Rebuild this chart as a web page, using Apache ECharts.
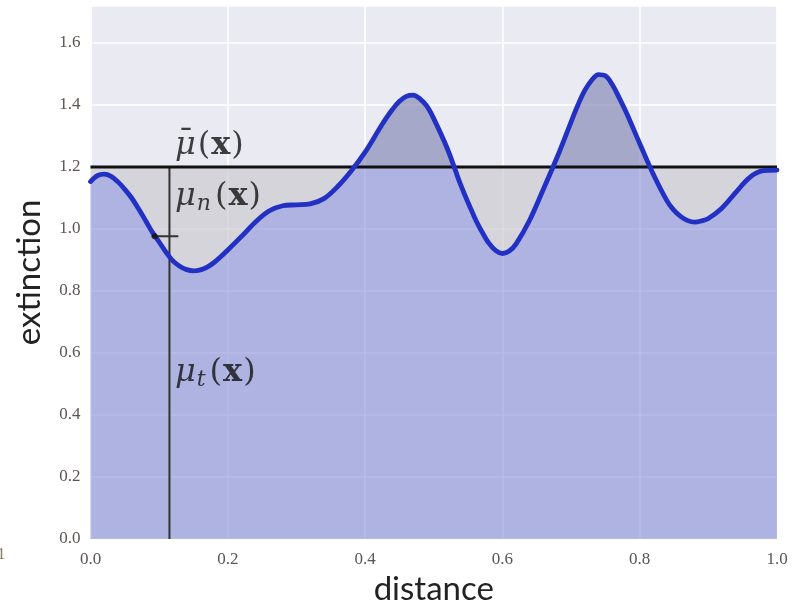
<!DOCTYPE html>
<html><head><meta charset="utf-8">
<script src="https://cdn.jsdelivr.net/npm/echarts@6/dist/echarts.min.js"></script>
<style>html,body{margin:0;padding:0;background:#fff}#c{width:802px;height:601px}</style>
</head><body><div id="c"></div>
<script>
// ---- data ----
const distance = [0.00, 0.01, 0.02, 0.03, 0.04, 0.05, 0.06, 0.07, 0.08, 0.09, 0.10, 0.11, 0.12, 0.13, 0.14, 0.15, 0.16, 0.17, 0.18, 0.19, 0.20, 0.22, 0.24, 0.26, 0.28, 0.30, 0.32, 0.34, 0.36, 0.38, 0.40, 0.42, 0.43, 0.44, 0.45, 0.46, 0.47, 0.48, 0.49, 0.50, 0.52, 0.54, 0.56, 0.57, 0.58, 0.59, 0.60, 0.61, 0.62, 0.64, 0.66, 0.68, 0.70, 0.71, 0.72, 0.73, 0.74, 0.75, 0.76, 0.77, 0.78, 0.80, 0.82, 0.84, 0.85, 0.86, 0.87, 0.88, 0.89, 0.90, 0.92, 0.94, 0.96, 0.98, 1.00];
const extinction = [1.153, 1.172, 1.177, 1.170, 1.152, 1.128, 1.100, 1.065, 1.028, 0.990, 0.958, 0.925, 0.897, 0.880, 0.869, 0.865, 0.868, 0.877, 0.892, 0.911, 0.932, 0.976, 1.022, 1.058, 1.075, 1.078, 1.081, 1.098, 1.137, 1.188, 1.248, 1.320, 1.355, 1.386, 1.412, 1.428, 1.432, 1.420, 1.396, 1.356, 1.258, 1.138, 1.035, 0.992, 0.955, 0.931, 0.921, 0.929, 0.952, 1.030, 1.130, 1.233, 1.345, 1.400, 1.447, 1.480, 1.498, 1.494, 1.466, 1.424, 1.378, 1.276, 1.176, 1.090, 1.060, 1.040, 1.027, 1.022, 1.026, 1.034, 1.068, 1.118, 1.166, 1.188, 1.190];
const majorant = 1.2;
const probeX = 0.115;
const sampleX = 0.0935, sampleY = 0.977;
const tickLeft = 0.089, tickRight = 0.128;
const xRange = [0, 1];
const yRange = [0, 1.72];
const labelMuBar = [0.123, 1.27];
const labelMuN = [0.123, 1.105];
const labelMuT = [0.123, 0.535];

const curve = distance.map((d, i) => [d, extinction[i]]);

const chart = echarts.init(document.getElementById('c'), null, {renderer: 'canvas'});
const L = 90.5, R = 25, T = 5.8, B = 62;
const plotH = 601 - T - B;
const yPix = v => 601 - B - (v - yRange[0]) / (yRange[1] - yRange[0]) * plotH;
const majPix = yPix(majorant);

const tickFont = {fontFamily: 'Liberation Serif', fontSize: 17, color: '#5a5552'};
const hiddenX = i => ({type: 'value', gridIndex: i, min: xRange[0], max: xRange[1], show: false});
const MF = 'DejaVu Serif';
const FS = 32;
const mathRich = {
  mu: {fontFamily: MF, fontStyle: 'italic', fontSize: FS, color: '#111', padding: [0, 1, 0, 0]},
  p: {fontFamily: MF, fontSize: FS, color: '#111', padding: [0, 1, 0, 1]},
  b: {fontFamily: MF, fontWeight: 'bold', fontSize: FS, color: '#111'},
  sub: {fontFamily: MF, fontStyle: 'italic', fontSize: 22, color: '#111', padding: [15, 3, 0, 0]},
  bar: {fontFamily: MF, fontSize: FS, color: '#111'}
};
const smoothness = 0.35;
const gridBase = {left: L, right: R, outerBoundsMode: 'none', containLabel: false};

chart.setOption({
  animation: false,
  backgroundColor: '#ffffff',
  grid: [
    Object.assign({top: T, bottom: B, show: true, backgroundColor: '#eaeaf2', borderWidth: 0}, gridBase),
    Object.assign({top: majPix, bottom: B, show: false}, gridBase),
    Object.assign({top: T, bottom: 601 - majPix, show: false}, gridBase)
  ],
  xAxis: [
    {type: 'value', gridIndex: 0, min: xRange[0], max: xRange[1], interval: 0.2,
     axisLine: {show: false}, axisTick: {show: false},
     axisLabel: Object.assign({margin: 12, formatter: v => v.toFixed(1)}, tickFont),
     splitLine: {show: true, lineStyle: {color: '#ffffff', width: 1.6}},
     name: 'distance', nameLocation: 'middle', nameGap: 33,
     nameTextStyle: {fontFamily: 'Lato', fontSize: 33, color: '#222'}},
    hiddenX(1), hiddenX(2)
  ],
  yAxis: [
    {type: 'value', gridIndex: 0, min: yRange[0], max: yRange[1], interval: 0.2,
     axisLine: {show: false}, axisTick: {show: false},
     axisLabel: Object.assign({margin: 10, formatter: v => (Math.abs(v * 5 - Math.round(v * 5)) > 1e-6 ? '' : v.toFixed(1))}, tickFont),
     splitLine: {show: true, lineStyle: {color: '#ffffff', width: 1.6}},
     name: 'extinction', nameLocation: 'middle', nameGap: 45,
     nameTextStyle: {fontFamily: 'Lato', fontSize: 33, color: '#222'}},
    {type: 'value', gridIndex: 1, min: yRange[0], max: majorant, show: false},
    {type: 'value', gridIndex: 2, min: majorant, max: yRange[1], show: false}
  ],
  graphic: [
    {type: 'text', left: -3, top: 546, style: {text: '1', fontFamily: 'Liberation Serif', fontSize: 17, fill: '#8a7a60'}}
  ],
  series: [
    {type: 'line', xAxisIndex: 1, yAxisIndex: 1, data: curve, smooth: smoothness, symbol: 'none', clip: true,
     lineStyle: {width: 0}, areaStyle: {origin: 'start', color: 'rgba(134,141,215,0.6)', opacity: 1}, z: 2},
    {type: 'line', xAxisIndex: 1, yAxisIndex: 1, data: curve, smooth: smoothness, symbol: 'none', clip: true,
     lineStyle: {width: 0}, areaStyle: {origin: 'end', color: 'rgba(196,196,202,0.6)', opacity: 1}, z: 2},
    {type: 'line', xAxisIndex: 2, yAxisIndex: 2, data: curve, smooth: smoothness, symbol: 'none', clip: true,
     lineStyle: {width: 0}, areaStyle: {origin: 'start', color: 'rgba(119,124,174,0.6)', opacity: 1}, z: 2},
    {type: 'line', xAxisIndex: 0, yAxisIndex: 0, data: [[probeX, 0], [probeX, majorant]], symbol: 'none',
     lineStyle: {color: '#333333', width: 2}, z: 3},
    {type: 'line', xAxisIndex: 0, yAxisIndex: 0, data: [[xRange[0], majorant], [xRange[1], majorant]], symbol: 'none',
     lineStyle: {color: '#111111', width: 3}, z: 4},
    {type: 'line', xAxisIndex: 0, yAxisIndex: 0, data: curve, smooth: smoothness, symbol: 'none', clip: false,
     lineStyle: {color: '#2231c4', width: 4.8, cap: 'round', join: 'round'}, z: 5},
    {type: 'line', xAxisIndex: 0, yAxisIndex: 0, data: [[tickLeft, sampleY], [tickRight, sampleY]], symbol: 'none',
     lineStyle: {color: '#333333', width: 2}, z: 6},
    {type: 'scatter', xAxisIndex: 0, yAxisIndex: 0, data: [[sampleX, sampleY]], symbolSize: 6,
     itemStyle: {color: '#111111'}, z: 7},
    {type: 'scatter', xAxisIndex: 0, yAxisIndex: 0, symbolSize: 0, z: 8, silent: true,
     label: {show: true, position: 'right', distance: 0, align: 'left', verticalAlign: 'middle', rich: mathRich},
     data: [
       {value: labelMuBar, label: {formatter: '{mu|μ}{p|(}{b|x}{p|)}'}},
       {value: labelMuBar, label: {formatter: '{bar|¯}', offset: [3, -3]}},
       {value: labelMuN, label: {formatter: '{mu|μ}{sub|n}{p|(}{b|x}{p|)}'}},
       {value: labelMuT, label: {formatter: '{mu|μ}{sub|t}{p|(}{b|x}{p|)}'}}
     ]}
  ]
});
</script></body></html>
